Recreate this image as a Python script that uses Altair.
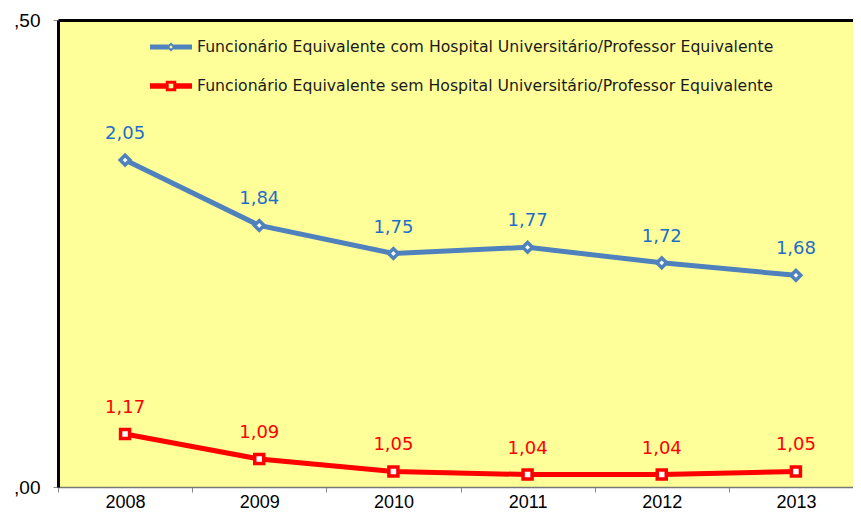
import altair as alt
import pandas as pd

years = ["2008", "2009", "2010", "2011", "2012", "2013"]
S1 = "Funcionário Equivalente com Hospital Universitário/Professor Equivalente"
S2 = "Funcionário Equivalente sem Hospital Universitário/Professor Equivalente"
com_hu = [2.05, 1.84, 1.75, 1.77, 1.72, 1.68]
sem_hu = [1.17, 1.09, 1.05, 1.04, 1.04, 1.05]

series_names = [S1, S2]
series_keys = ["com", "sem"]
line_colors = ["#4f81bd", "#ff0000"]
label_colors = ["#1e6ec8", "#ff0000"]
plot_bg = "#ffff99"
legend_paths = [
    "M-1,-0.12L-0.12,-0.12L-0.12,0.12L-1,0.12Z M0.12,-0.12L1,-0.12L1,0.12L0.12,0.12Z "
    "M0,-0.22L0.22,0L0,0.22L-0.22,0Z M0,-0.08L-0.08,0L0,0.08L0.08,0Z",
    "M-1,-0.13L-0.24,-0.13L-0.24,0.13L-1,0.13Z M0.24,-0.13L1,-0.13L1,0.13L0.24,0.13Z "
    "M-0.25,-0.25L0.25,-0.25L0.25,0.25L-0.25,0.25Z M-0.11,-0.11L-0.11,0.11L0.11,0.11L0.11,-0.11Z",
]

rows = []
for y, v in zip(years, com_hu):
    rows.append({"year": y, "value": v, "series": S1, "key": "com"})
for y, v in zip(years, sem_hu):
    rows.append({"year": y, "value": v, "series": S2, "key": "sem"})
df = pd.DataFrame(rows)

is_s1 = alt.datum.key == "com"

xscale = alt.Scale(type="band", paddingInner=0, paddingOuter=0, domain=years)
yscale = alt.Scale(domain=[1.0, 2.5], nice=False, zero=False)

x_bottom = alt.X(
    "year:O", scale=xscale, bandPosition=0.5,
    axis=alt.Axis(orient="bottom", title=None, labelAngle=0, tickBand="extent",
                  tickSize=5, tickColor="#888888", domainColor="#777777",
                  domainWidth=1.5, labelPadding=1, labelFont="Liberation Sans",
                  labelFontSize=18, labelColor="#000000", grid=False, zindex=1),
)
y_enc = alt.Y(
    "value:Q", scale=yscale,
    axis=alt.Axis(values=[1.0, 2.5], title=None, grid=False,
                  labelExpr="',' + substring(format(datum.value, '.2f'), 2)",
                  tickSize=5, tickColor="#888888", domainColor="#000000",
                  domainWidth=3, labelPadding=13, labelFont="Liberation Sans",
                  labelFontSize=19, labelColor="#000000", zindex=1),
)

base = alt.Chart(df)

background = alt.Chart(pd.DataFrame({"bg": [0]})).mark_rect(color=plot_bg).encode(
    x=alt.value(0), x2=alt.value("width"), y=alt.value(0), y2=alt.value("height")
)

lines = base.mark_line(strokeWidth=5).encode(
    x=x_bottom,
    y=y_enc,
    color=alt.Color("key:N", scale=alt.Scale(domain=series_keys, range=line_colors), legend=None),
)

pt_x = alt.X("year:O", scale=xscale, bandPosition=0.5, axis=None)
pt_y = alt.Y("value:Q", scale=yscale)
points_com = base.transform_filter(is_s1).mark_point(
    filled=True, fill="white", stroke=line_colors[0], opacity=1, strokeWidth=3.5,
    shape="diamond", size=95,
).encode(x=pt_x, y=pt_y)
points_sem = base.transform_filter(~is_s1).mark_point(
    filled=True, fill="white", stroke=line_colors[1], opacity=1, strokeWidth=3.5,
    shape="square", size=81,
).encode(x=pt_x, y=pt_y)

labels = base.transform_calculate(
    lab="replace(format(datum.value, '.2f'), '.', ',')"
).mark_text(dy=-26, font="DejaVu Sans", fontSize=18).encode(
    x=alt.X("year:O", scale=xscale, bandPosition=0.5,
            axis=alt.Axis(orient="top", title=None, labels=False, ticks=False,
                          domainColor="#000000", domainWidth=3, grid=False, zindex=1)),
    y=alt.Y("value:Q", scale=yscale),
    text="lab:N",
    color=alt.condition(is_s1, alt.value(label_colors[0]), alt.value(label_colors[1])),
)

leg = alt.Legend(
    title=None, orient="none", legendX=92, legendY=6, direction="vertical",
    labelFont="DejaVu Sans", labelFontSize=15.7, labelColor="#1a1a1a",
    labelLimit=0, labelOffset=5, symbolSize=1764, symbolStrokeWidth=0,
    symbolOpacity=1, rowPadding=10, padding=0,
)
legend_layer = base.transform_filter("false").mark_point(filled=True, opacity=1).encode(
    fill=alt.Fill("series:N", scale=alt.Scale(domain=series_names, range=line_colors), legend=leg),
    shape=alt.Shape("series:N", scale=alt.Scale(domain=series_names, range=legend_paths), legend=leg),
)

chart = (
    alt.layer(background, lines, points_com, points_sem, labels, legend_layer)
    .resolve_axis(x="independent")
    .properties(
        width=805, height=467,
        autosize=alt.AutoSizeParams(type="none"),
        padding={"left": 50, "top": 12, "right": -10, "bottom": 27},
    )
    .configure_view(stroke=None)
)

chart.save("out.html", embed_options={"renderer": "svg", "actions": False})
